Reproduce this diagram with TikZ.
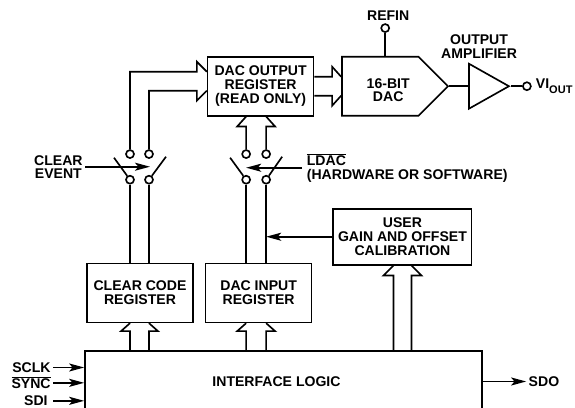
\documentclass[tikz,border=0pt]{standalone}
\usepackage{fontspec}
\setmainfont{Liberation Sans}
\usepackage{tikz}
\usetikzlibrary{arrows.meta,positioning,calc,shapes.geometric,shapes.symbols}

\begin{document}
\begin{tikzpicture}[
  every node/.style={align=center,font=\fontsize{12}{11.8}\selectfont\bfseries},
  wire/.style={line width=1.4pt,line join=miter},
  sig/.style={wire,-{Stealth[length=0.45cm,width=0.24cm,inset=0.1cm]}},
  reg/.style={rectangle,draw,line width=1.4pt,minimum width=3.18cm,minimum height=1.77cm},
  term/.style={circle,draw,line width=1.4pt,fill=white,inner sep=0pt,minimum size=0.24cm},
  lab/.style={inner sep=2pt}
]
\useasboundingbox (0,0) rectangle (17.25,12.24);
\node[reg,minimum width=11.91cm,minimum height=1.83cm] (logic) at (8.505,0.795) {INTERFACE LOGIC\hspace*{0.42cm}};
\node[reg,above right=0.81cm and 0.06cm of logic.north west] (ccode) {CLEAR CODE\\REGISTER};
\node[reg,right=0.33cm of ccode] (dacin) {DAC INPUT\\REGISTER};
\node[reg,above=4.38cm of dacin,xshift=0.06cm] (dacout) {DAC OUTPUT\\REGISTER\\(READ ONLY)};
\node[reg,minimum width=4.15cm,minimum height=1.68cm,above right=-0.09cm and 0.6cm of dacin.north east] (cal) {USER\\GAIN AND OFFSET\\CALIBRATION};
\node[signal,draw,line width=1.4pt,signal to=east,signal pointer angle=90,minimum width=3.18cm,minimum height=1.77cm,right=0.8cm of dacout] (dac) {};
\node[lab,xshift=0.24cm,yshift=-0.12cm] (daclab) at (dac) {16-BIT\\DAC};
\node[isosceles triangle,isosceles triangle stretches,draw,line width=1.4pt,inner sep=0pt,minimum width=1.35cm,minimum height=1.2cm,right=0.57cm of dac] (amp) {};
\node[term,right=0.33cm of amp.apex] (vout) {};
\node[lab,right=0.05cm of vout] (voutlab) {VI\raisebox{-0.3em}{\fontsize{9.4}{9.4}\selectfont OUT}};
\node[term,above=0.69cm of dac.north,xshift=0.15cm] (refin) {};
\node[lab,above=0pt of refin,xshift=0.09cm] (refinlab) {REFIN};
\node[lab,above=0.28cm of amp.north,xshift=-0.09cm] (amplab) {OUTPUT\\AMPLIFIER};

% switches
\node[term,above=2.34cm of ccode.north,xshift=-0.3cm] (swa) {};
\node[term,above=2.34cm of ccode.north,xshift=0.27cm] (swb) {};
\node[term,above=0.48cm of swa] (swc) {};
\node[term,above=0.48cm of swb] (swd) {};
\node[term,above=2.34cm of dacin.north,xshift=-0.375cm] (swe) {};
\node[term,above=2.34cm of dacin.north,xshift=0.225cm] (swf) {};
\node[term,above=0.48cm of swe] (swg) {};
\node[term,above=0.48cm of swf] (swh) {};
\coordinate (blA) at ($(swa)+(-0.48,0.66)$);
\coordinate (blB) at ($(swb)+(0.51,0.69)$);
\coordinate (blE) at ($(swe)+(-0.48,0.66)$);
\coordinate (blF) at ($(swf)+(0.48,0.69)$);
\coordinate (sigA) at ($(swb)+(0.03,0.39)$);
\coordinate (sigB) at ($(swe)+(0,0.36)$);
\coordinate (sigC) at ($(sigB)+(1.68,0)$);
\node[lab,left=1.2cm of swc,yshift=-0.39cm] (clrev) {CLEAR\\EVENT};
\node[lab,align=left,right=1.0cm of swh,yshift=-0.41cm] (ldac) {$\overline{\hbox{LDAC}}$\\(HARDWARE OR SOFTWARE)};

% serial pins
\node[lab,left=0.93cm of logic.west,yshift=0.42cm] (sclk) {SCLK};
\node[lab,left=0.93cm of logic.west,yshift=-0.04cm] (sync) {$\overline{\hbox{SYNC}}$};
\node[lab,left=1.02cm of logic.west,yshift=-0.58cm] (sdi) {SDI};
\node[lab,right=1.3cm of logic.east] (sdo) {SDO};

\draw[wire] (swa) -- (swa |- ccode.north);
\draw[wire] (swb) -- (swb |- ccode.north);
\draw[wire] (swe) -- (swe |- dacin.north);
\draw[wire] (swf) -- (swf |- dacin.north);
\draw[wire] (swa) -- (blA);
\draw[wire] (swb) -- (blB);
\draw[wire] (swe) -- (blE);
\draw[wire] (swf) -- (blF);
\draw[sig] (sigA -| clrev.east) -- (sigA);
\draw[sig] (sigC) -- (sigB);
\draw[sig] (cal.west) -- (cal.west -| swf);
\draw[sig] (sclk.east) -- (sclk.east -| logic.west);
\draw[sig] (sync.east) -- (sync.east -| logic.west);
\draw[sig] (sdi.east -| sclk.east) -- (sdi.east -| logic.west);
\draw[sig] (logic.east) -- (sdo.west);
\draw[wire] (dac.east) -- (amp.west);
\draw[wire] (amp.apex) -- (vout);
\draw[wire] (refin) -- (refin |- dac.north);

% buses into the output register
\coordinate (outA) at ($(dacout.west)+(0,0.435)$);
\coordinate (outB) at ($(dacout.west)+(0,-0.135)$);
\draw[wire] (swc) |- ($(outA)+(-0.3,0)$) -- ++(0,0.3) -- (outA);
\draw[wire] (swd) |- ($(outB)+(-0.3,0)$) -- ++(0,-0.3) -- (outB);
\draw[wire] (swg) -- ($(swg |- dacout.south)+(0,-0.3)$) -- ++(-0.27,0) -- (swg |- dacout.south);
\draw[wire] (swh) -- ($(swh |- dacout.south)+(0,-0.3)$) -- ++(0.27,0) -- (swh |- dacout.south);

% buses out of the output register
\draw[wire] ($(dacout.east)+(0,0.285)$) -- ($(dac.west)+(-0.27,0.285)$) -- ++(0,0.3) -- ($(dac.west)+(0,0.285)$);
\draw[wire] ($(dacout.east)+(0,-0.285)$) -- ($(dac.west)+(-0.27,-0.285)$) -- ++(0,-0.3) -- ($(dac.west)+(0,-0.285)$);

% buses out of the interface logic
\coordinate (calA) at ($(cal.south)+(-0.27,0)$);
\coordinate (calB) at ($(cal.south)+(0.27,0)$);
\draw[wire] (swa |- logic.north) -- ($(swa |- ccode.south)+(0,-0.24)$) -- ++(-0.27,0) -- (swa |- ccode.south);
\draw[wire] (swb |- logic.north) -- ($(swb |- ccode.south)+(0,-0.24)$) -- ++(0.27,0) -- (swb |- ccode.south);
\draw[wire] (swe |- logic.north) -- ($(swe |- dacin.south)+(0,-0.24)$) -- ++(-0.27,0) -- (swe |- dacin.south);
\draw[wire] (swf |- logic.north) -- ($(swf |- dacin.south)+(0,-0.24)$) -- ++(0.27,0) -- (swf |- dacin.south);
\draw[wire] (calA |- logic.north) -- ($(calA)+(0,-0.3)$) -- ++(-0.3,0) -- (calA);
\draw[wire] (calB |- logic.north) -- ($(calB)+(0,-0.3)$) -- ++(0.3,0) -- (calB);
\end{tikzpicture}
\end{document}
